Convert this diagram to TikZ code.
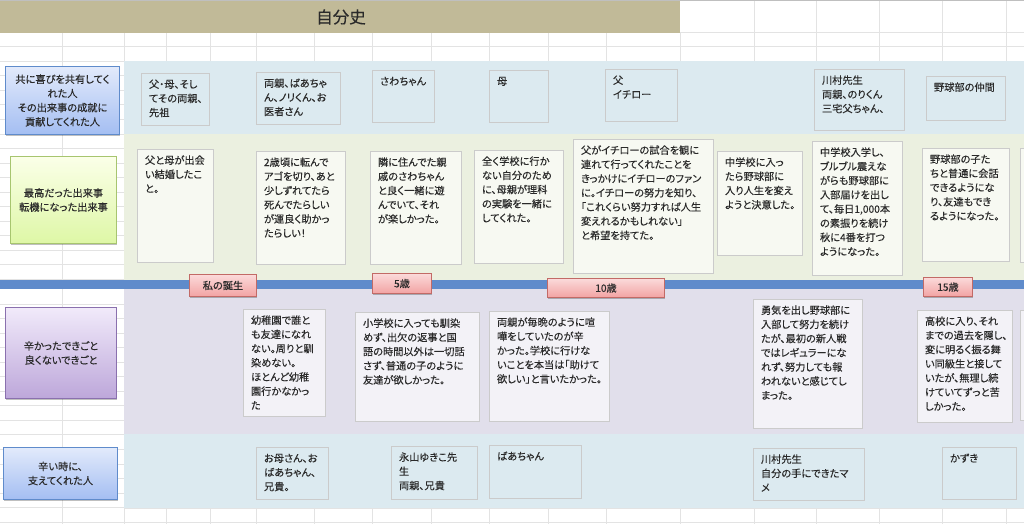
\documentclass[tikz,border=0pt]{standalone}
\usepackage{fontspec}
\setmainfont{Noto Sans CJK JP}[RawFeature={+palt;embolden=0.2}]
\usetikzlibrary{positioning,shadows}
\definecolor{gridgray}{HTML}{E3E3E3}
\definecolor{titletan}{HTML}{C1BA98}
\definecolor{bandblue}{HTML}{DCEAF0}
\definecolor{bandgreen}{HTML}{EBF0E0}
\definecolor{bandpurple}{HTML}{E1DFEB}
\definecolor{lineblue}{HTML}{5F8BCB}
\definecolor{boxgray}{HTML}{CBCBCB}
\definecolor{inkgray}{HTML}{2A2A2A}
\definecolor{bluetop}{HTML}{E2EAFB}
\definecolor{bluebot}{HTML}{A4BEF2}
\definecolor{greentop}{HTML}{FBFFE8}
\definecolor{greenbot}{HTML}{DEF7A6}
\definecolor{greenedge}{HTML}{A7C56F}
\definecolor{purpletop}{HTML}{F1EAFA}
\definecolor{purplebot}{HTML}{BDA7DA}
\definecolor{purpleedge}{HTML}{8A70AE}
\definecolor{redtop}{HTML}{FBDADA}
\definecolor{redbot}{HTML}{F2A3A3}
\definecolor{rededge}{HTML}{C26A66}
\newcommand{\Bfont}{\fontsize{10.2}{14.2}\selectfont}
\tikzset{
  gridline/.style={gridgray,line width=1pt},
  sized/.style 2 args={anchor=north west,align=left,inner xsep=7.5pt,inner ysep=0pt,
    text width=#1pt-15pt,text height=14.5pt,text depth=#2pt-14.5pt},
  plainbox/.style={draw=boxgray,line width=1pt,text=inkgray,font=\Bfont},
  paperbox/.style={plainbox,fill=white,fill opacity=.6,text opacity=1},
  mainbox/.style 2 args={anchor=north west,align=center,inner sep=0pt,minimum width=#1pt,
    minimum height=#2pt,text=inkgray,font=\Bfont,line width=1pt,
    drop shadow={shadow xshift=0pt,shadow yshift=-1.5pt,opacity=.25,fill=black}},
  bluebox/.style={top color=bluetop,bottom color=bluebot,draw=lineblue},
  greenbox/.style={top color=greentop,bottom color=greenbot,draw=greenedge},
  purplebox/.style={top color=purpletop,bottom color=purplebot,draw=purpleedge},
  agetag/.style={top color=redtop,bottom color=redbot,draw=rededge},
}
\begin{document}
\begin{tikzpicture}[x=1pt,y=-1pt]
\useasboundingbox (0,0) rectangle (1024,524);
\clip (0,0) rectangle (1024,524);
% spreadsheet grid
\foreach \r in {1,...,17} {\draw[gridline] (0,32.5+\r*14.5) -- (124,32.5+\r*14.5);}
\foreach \r in {0,...,15} {\draw[gridline] (0,304+\r*14.55) -- (124,304+\r*14.55);}
\draw[gridline] (62,33) -- (62,524);
\foreach \yy in {33,47,508,522} {\draw[gridline] (124,\yy) -- (1024,\yy);}
\foreach \xx in {124,166,210,256,314,372,431,489,548,606,680,754,816,879,942,1006} {
  \draw[gridline] (\xx,33) -- (\xx,61);
  \draw[gridline] (\xx,508) -- (\xx,524);}
\foreach \xx in {754,816,879,942,1006} {\draw[gridline] (\xx,0) -- (\xx,33);}
% title and bands
\fill[gray!50] (0,0) rectangle (1024,1);
\fill[titletan] (0,1.5) rectangle (680,33);
\fill[bandblue] (124,61) rectangle (1024,134);
\fill[bandgreen] (124,134) rectangle (1024,280);
\fill[bandpurple] (124,289) rectangle (1024,434);
\fill[bandblue] (124,434) rectangle (1024,508);
\fill[lineblue] (0,280) rectangle (1024,289);
\node (title) [text=inkgray,font=\fontsize{16.5}{18}\selectfont] at (341,17) {自分史};
% row labels
\node (l1) [mainbox={114}{68},bluebox] at (5,66) {共に喜びを共有してく\\れた人\\その出来事の成就に\\貢献してくれた人};
\node (l2) [mainbox={106}{87},greenbox] at (10,156) {最高だった出来事\\転機になった出来事};
\node (l3) [mainbox={111}{91},purplebox] at (5,307) {辛かったできごと\\良くないできごと};
\node (l4) [mainbox={114}{52},bluebox] at (3,447) {辛い時に、\\支えてくれた人};
% people who shared the joy
\node (a1) [plainbox,sized={68}{52}] at (141,73) {父・母、そし\\てその両親、\\先祖};
\node (a2) [plainbox,sized={84}{52}] at (256,72) {両親、ばあちゃ\\ん、ノリくん、お\\医者さん};
\node (a3) [plainbox,sized={62}{52}] at (372,70) {さわちゃん};
\node (a4) [plainbox,sized={59}{52}] at (489,70) {母};
\node (a5) [plainbox,sized={72}{52}] at (605,69) {父\\イチロー};
\node (a6) [plainbox,sized={90}{61}] at (814,69) {川村先生\\両親、のりくん\\三宅父ちゃん、};
\node (a7) [plainbox,sized={79}{44}] at (926,76) {野球部の仲間};
% best moments
\node (g1) [paperbox,sized={76}{113}] at (137,149) {父と母が出会\\い結婚したこ\\と。};
\node (g2) [paperbox,sized={89}{113}] at (256,151) {2歳頃に転んで\\アゴを切り、あと\\少しずれてたら\\死んでたらしい\\が運良く助かっ\\たらしい！};
\node (g3) [paperbox,sized={91}{113}] at (370,151) {隣に住んでた親\\戚のさわちゃん\\と良く一緒に遊\\んでいて、それ\\が楽しかった。};
\node (g4) [paperbox,sized={89}{113}] at (474,150) {全く学校に行か\\ない自分のため\\に、母親が理科\\の実験を一緒に\\してくれた。};
\node (g5) [paperbox,sized={140}{134}] at (573,139) {父がイチローの試合を観に\\連れて行ってくれたことを\\きっかけにイチローのファン\\に。イチローの努力を知り、\\「これくらい努力すれば人生\\変えれるかもしれない」\\と希望を持てた。};
\node (g6) [paperbox,sized={85}{104}] at (717,151) {中学校に入っ\\たら野球部に\\入り人生を変え\\ようと決意した。};
\node (g7) [paperbox,sized={90}{134}] at (812,141) {中学校入学し、\\ブルブル震えな\\がらも野球部に\\入部届けを出し\\て、毎日1,000本\\の素振りを続け\\秋に4番を打つ\\ようになった。};
\node (g8) [paperbox,sized={87}{113}] at (922,148) {野球部の子た\\ちと普通に会話\\できるようにな\\り、友達もでき\\るようになった。};
\node (g9) [paperbox,sized={40}{114}] at (1020,148) {};
% age marks on the line
\node (t1) [mainbox={67}{22},agetag] at (189,274) {私の誕生};
\node (t2) [mainbox={59}{20},agetag] at (372,273) {5歳};
\node (t3) [mainbox={117}{19},agetag] at (547,278) {10歳};
\node (t4) [mainbox={49}{19},agetag] at (923,277) {15歳};
% hard moments
\node (p1) [paperbox,sized={82}{107}] at (243,309) {幼稚園で誰と\\も友達になれ\\ない。周りと馴\\染めない。\\ほとんど幼稚\\園行かなかっ\\た};
\node (p2) [paperbox,sized={124}{109}] at (355,312) {小学校に入っても馴染\\めず、出欠の返事と国\\語の時間以外は一切話\\さず、普通の子のように\\友達が欲しかった。};
\node (p3) [paperbox,sized={120}{110}] at (489,311) {両親が毎晩のように喧\\嘩をしていたのが辛\\かった。学校に行けな\\いことを本当は「助けて\\欲しい」と言いたかった。};
\node (p4) [paperbox,sized={109}{129}] at (753,299) {勇気を出し野球部に\\入部して努力を続け\\たが、最初の新人戦\\ではレギュラーにな\\れず、努力しても報\\われないと感じてし\\まった。};
\node (p5) [paperbox,sized={95}{112}] at (917,310) {高校に入り、それ\\までの過去を隠し、\\変に明るく振る舞\\い同級生と接して\\いたが、無理し続\\けていてずっと苦\\しかった。};
\node (p6) [paperbox,sized={40}{110}] at (1020,310) {};
% people who supported
\node (c1) [plainbox,sized={72}{52}] at (256,447) {お母さん、お\\ばあちゃん、\\兄貴。};
\node (c2) [plainbox,sized={86}{53}] at (391,446) {永山ゆきこ先\\生\\両親、兄貴};
\node (c3) [plainbox,sized={92}{53}] at (489,445) {ばあちゃん};
\node (c4) [plainbox,sized={111}{52}] at (753,448) {川村先生\\自分の手にできたマ\\メ};
\node (c5) [plainbox,sized={74}{52}] at (942,447) {かずき};
\end{tikzpicture}
\end{document}
